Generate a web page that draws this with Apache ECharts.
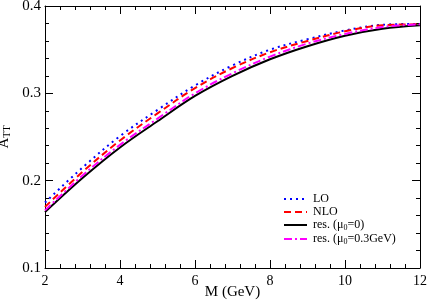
<!DOCTYPE html>
<html><head><meta charset="utf-8">
<script src="https://cdn.jsdelivr.net/npm/echarts@6/dist/echarts.min.js"></script>
<style>html,body{margin:0;padding:0;background:#fff}#c{width:429px;height:302px}</style>
</head><body><div id="c"></div>
<script>
const masses = [2,3,4,5,6,7,8,9,10,11,12];
const lo     = [0.175,0.215,0.251,0.281,0.309,0.332,0.350,0.362,0.372,0.3785,0.3795];
const nlo    = [0.170,0.210,0.246,0.277,0.306,0.329,0.347,0.360,0.371,0.378,0.379];
const res0   = [0.164,0.203,0.238,0.268,0.297,0.320,0.339,0.354,0.366,0.374,0.378];
const res03  = [0.166,0.206,0.241,0.271,0.300,0.323,0.342,0.357,0.368,0.376,0.379];
const xTicks = [2,4,6,8,10,12];
const yTicks = [0.1,0.2,0.3,0.4];

const FONT = '"Liberation Serif", "DejaVu Serif", serif';
const pairs = a => masses.map((m,i)=>[m,a[i]]);
const chart = echarts.init(document.getElementById('c'));
function mk(name, data, color, type){
  return {name, type:'line', data:pairs(data), smooth:0.35, symbol:'none', showSymbol:false, xAxisIndex:0, yAxisIndex:0,
    lineStyle:{color, width:2, type}, itemStyle:{color}};
}
const axisCommon = {
  axisLine:{show:true, lineStyle:{color:'#000', width:1}},
  axisTick:{show:true, inside:true, length:8, lineStyle:{color:'#000'}},
  minorTick:{show:true, splitNumber:5, length:4, lineStyle:{color:'#000'}},
  splitLine:{show:false}
};
chart.setOption({
  animation:false,
  grid:{left:45, right:9, top:6, bottom:34, containLabel:false, outerBoundsMode:'none'},
  legend:{
    orient:'vertical', left:278, top:188, itemWidth:23, itemHeight:10, itemGap:1,
    itemStyle:{opacity:0},
    textStyle:{fontFamily:FONT, fontSize:12, color:'#000', padding:[0,0,0,1],
      rich:{sub:{fontFamily:FONT, fontSize:8, verticalAlign:'bottom', padding:[6,0,0,0]}}},
    formatter: n => n.replace('μ0', 'μ{sub|0}')
  },
  xAxis:[
    Object.assign({type:'value', min:2, max:12, interval:2, position:'bottom',
      name:'M (GeV)', nameLocation:'middle', nameGap:17, nameMoveOverlap:false,
      nameTextStyle:{fontFamily:FONT, fontSize:15, color:'#000', verticalAlign:'top'},
      axisLabel:{fontFamily:FONT, fontSize:14, color:'#000', margin:6,
        formatter: v => xTicks.includes(v) ? String(v) : ''}}, axisCommon),
    Object.assign({type:'value', min:2, max:12, interval:2, position:'top', axisLabel:{show:false}}, axisCommon)
  ],
  yAxis:[
    Object.assign({type:'value', min:0.1, max:0.4, interval:0.1, position:'left',
      name:'{a|A}{s|TT}', nameLocation:'middle', nameGap:33, nameRotate:90, nameMoveOverlap:false,
      nameTextStyle:{fontFamily:FONT, color:'#000',
        rich:{a:{fontFamily:FONT, fontSize:15, color:'#000'}, s:{fontFamily:FONT, fontSize:10, color:'#000', verticalAlign:'bottom', padding:[6,0,0,0]}}},
      axisLabel:{fontFamily:FONT, fontSize:15, color:'#000', margin:4,
        formatter: v => { const t = yTicks.find(y => Math.abs(y-v)<1e-6); return t!==undefined ? t.toFixed(1) : ''; }}}, axisCommon),
    Object.assign({type:'value', min:0.1, max:0.4, interval:0.1, position:'right', axisLabel:{show:false}}, axisCommon)
  ],
  series:[
    mk('LO', lo, '#0000ff', [2,4]),
    mk('NLO', nlo, '#ff0000', [7,4]),
    mk('res. (μ0=0)', res0, '#000000', 'solid'),
    mk('res. (μ0=0.3GeV)', res03, '#ff00ff', [8,3,2,3])
  ]
});
</script></body></html>
